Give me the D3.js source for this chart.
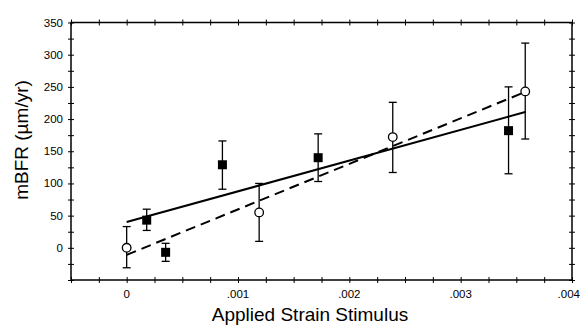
<style>body { margin: 0; overflow: hidden; }</style>
<svg width="581" height="325"></svg>

<script src="https://cdn.jsdelivr.net/npm/d3@7"></script>
<script>
	// mBFR vs applied strain stimulus: filled squares and open circles, each with a linear fit

	// filled squares
	const squareStrain = [0.00018, 0.00035, 0.00086, 0.00172, 0.00343]
	const squareMbfr = [43, -7, 129, 140, 182]
	const squareHigh = [60, 7, 166, 177, 250]
	const squareLow = [27, -21, 91, 103, 115]

	// open circles
	const circleStrain = [0, 0.00119, 0.00239, 0.00358]
	const circleMbfr = [0, 55, 172, 243]
	const circleHigh = [33, 100, 226, 318]
	const circleLow = [-31, 10, 117, 169]

	// fitted lines, start and end points
	const solidFitX = [0, 0.00358]
	const solidFitY = [40, 211]
	const dashedFitX = [0, 0.00355]
	const dashedFitY = [-11, 240]

	const xTickLabels = ["0", ".001", ".002", ".003", ".004"]
	const yTickValues = [0, 50, 100, 150, 200, 250, 300, 350]

	const plotLeft = 71, plotRight = 572, plotTop = 22.5, plotBottom = 280

	const x = d3.scaleLinear().domain([-0.0005, 0.004]).range([plotLeft, plotRight])
	const y = d3.scaleLinear().domain([-50, 350]).range([plotBottom, plotTop])

	const svg = d3.select("svg")
		.style("display", "block")
		.attr("font-family", "'Liberation Sans', Arial, sans-serif")

	// frame
	svg.append("rect")
		.attr("x", plotLeft).attr("y", plotTop)
		.attr("width", plotRight - plotLeft).attr("height", plotBottom - plotTop)
		.attr("fill", "none").attr("stroke", "#000").attr("stroke-width", 1.5)

	// small ticks crossing every side of the frame
	const xMinor = d3.range(-0.0005, 0.0040001, 0.00025)
	const yMinor = d3.range(-50, 350.1, 25)

	const tickSide = (axis, scale, vals, pos) => {
		const g = svg.append("g").attr("transform",
			axis === "x" ? `translate(0,${pos})` : `translate(${pos},0)`)
		const a = (axis === "x" ? d3.axisBottom(scale) : d3.axisLeft(scale))
			.tickValues(vals).tickSizeInner(3).tickSizeOuter(0).tickFormat("")
		g.call(a)
		g.select(".domain").remove()
		g.selectAll(".tick line")
			.attr(axis === "x" ? "y1" : "x1", axis === "x" ? -3 : 3)
			.attr("stroke-width", 1)
	}
	tickSide("x", x, xMinor, plotBottom)
	tickSide("x", x, xMinor, plotTop)
	tickSide("y", y, yMinor, plotLeft)
	tickSide("y", y, yMinor, plotRight)

	// tick labels (last one pulled in so it stays on the page)
	svg.append("g").selectAll("text")
		.data(xTickLabels)
		.join("text")
			.attr("x", (d, i) => i === xTickLabels.length - 1 ? 580 : x(i * 0.001))
			.attr("y", 298)
			.attr("text-anchor", (d, i) => i === xTickLabels.length - 1 ? "end" : "middle")
			.attr("font-size", 11.5)
			.text(d => d)

	svg.append("g").selectAll("text")
		.data(yTickValues)
		.join("text")
			.attr("x", 63)
			.attr("y", d => y(d) + 4)
			.attr("text-anchor", "end")
			.attr("font-size", 11.5)
			.text(d => d)

	// axis titles
	svg.append("text")
		.attr("x", 310).attr("y", 321)
		.attr("text-anchor", "middle")
		.attr("font-size", 19)
		.text("Applied Strain Stimulus")

	svg.append("text")
		.attr("transform", "translate(28,140) rotate(-90)")
		.attr("text-anchor", "middle")
		.attr("font-size", 19)
		.text("mBFR (\u00b5m/yr)")

	// error bars
	const errorBars = (xs, hi, lo) => {
		const g = svg.append("g").attr("stroke", "#000").attr("stroke-width", 1.3)
		xs.forEach((v, i) => {
			g.append("line").attr("x1", x(v)).attr("x2", x(v)).attr("y1", y(hi[i])).attr("y2", y(lo[i]))
			g.append("line").attr("x1", x(v) - 4).attr("x2", x(v) + 4).attr("y1", y(hi[i])).attr("y2", y(hi[i]))
			g.append("line").attr("x1", x(v) - 4).attr("x2", x(v) + 4).attr("y1", y(lo[i])).attr("y2", y(lo[i]))
		})
	}
	errorBars(squareStrain, squareHigh, squareLow)
	errorBars(circleStrain, circleHigh, circleLow)

	// fit lines
	const line = d3.line().x(d => x(d[0])).y(d => y(d[1]))
	svg.append("path")
		.attr("d", line(d3.zip(solidFitX, solidFitY)))
		.attr("stroke", "#000").attr("stroke-width", 2).attr("fill", "none")
	svg.append("path")
		.attr("d", line(d3.zip(dashedFitX, dashedFitY)))
		.attr("stroke", "#000").attr("stroke-width", 2).attr("fill", "none")
		.attr("stroke-dasharray", "10,6")

	// markers
	svg.append("g").selectAll("rect")
		.data(d3.zip(squareStrain, squareMbfr))
		.join("rect")
			.attr("x", d => x(d[0]) - 4.5)
			.attr("y", d => y(d[1]) - 4.5)
			.attr("width", 9).attr("height", 9)
			.attr("fill", "#000")

	svg.append("g").selectAll("circle")
		.data(d3.zip(circleStrain, circleMbfr))
		.join("circle")
			.attr("cx", d => x(d[0]))
			.attr("cy", d => y(d[1]))
			.attr("r", 4.3)
			.attr("fill", "#fff").attr("stroke", "#000").attr("stroke-width", 1.3)
</script>
